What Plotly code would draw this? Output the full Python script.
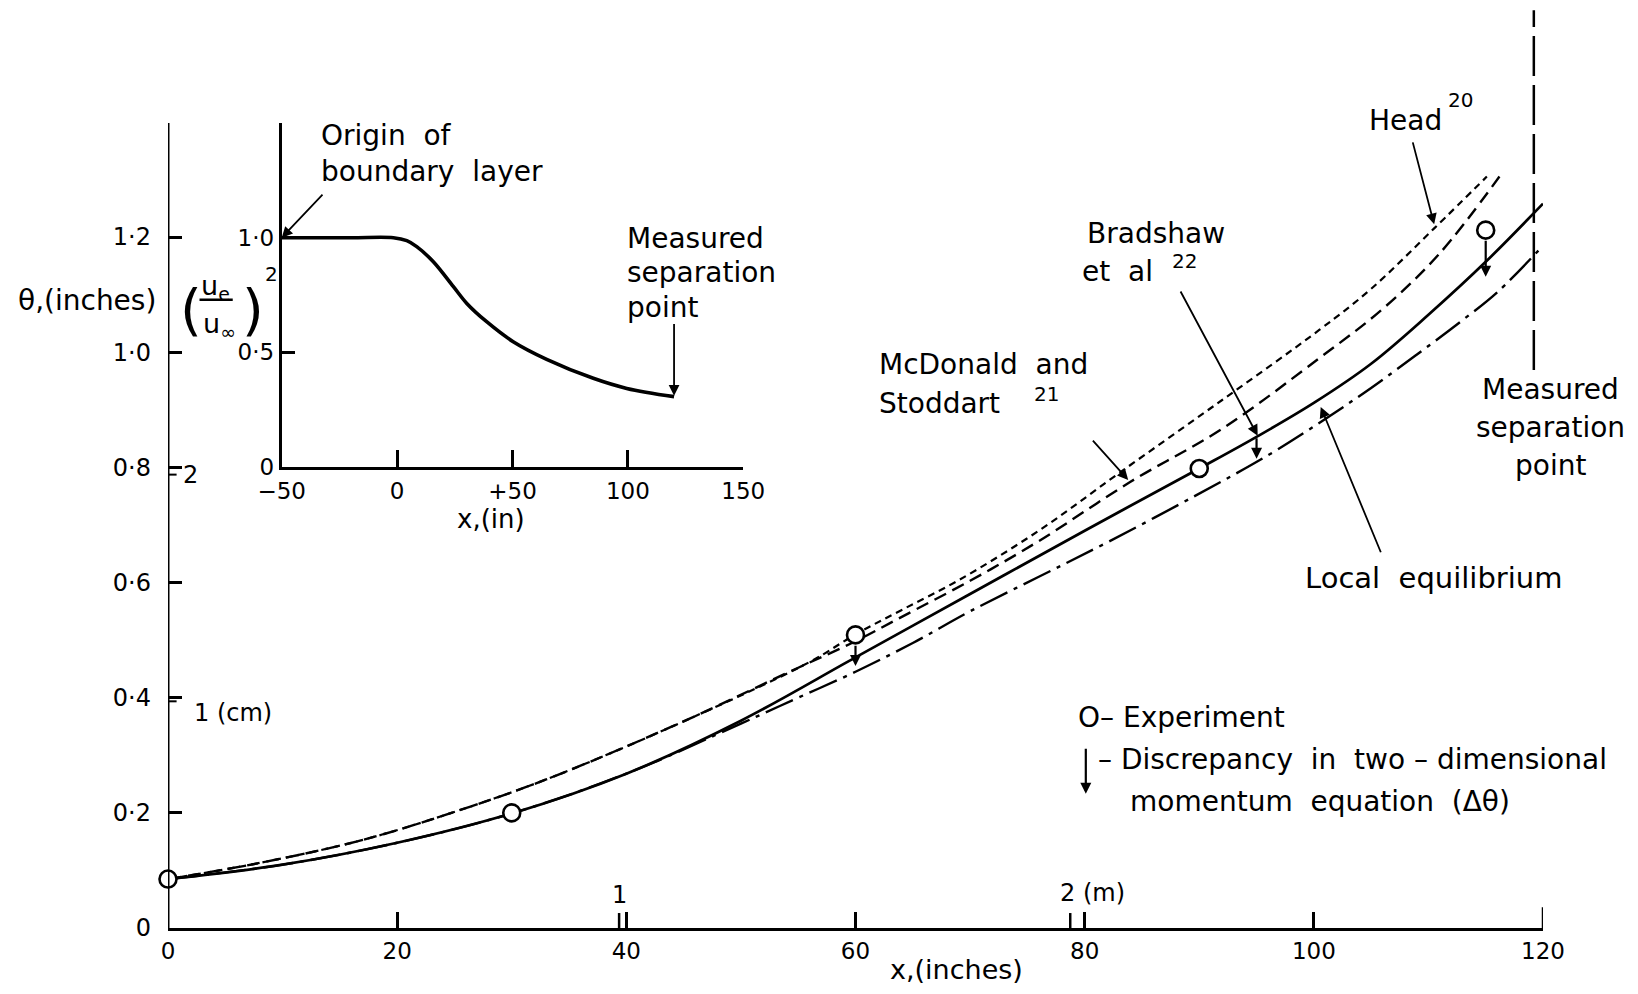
import plotly.graph_objects as go

# ---------------- data ----------------
# experiment (momentum thickness theta, inches) vs x (inches)
x_experiment = [0, 30, 60, 90, 115]
theta_experiment = [0.085, 0.2, 0.509, 0.798, 1.212]

# Bradshaw et al (solid)
x_bradshaw = [0, 10, 20, 30, 40, 50, 60, 70, 80, 90, 95, 100, 105, 110, 115, 120]
theta_bradshaw = [0.085, 0.11, 0.148, 0.199, 0.268, 0.36, 0.47, 0.58, 0.69, 0.798,
                  0.853, 0.912, 0.98, 1.065, 1.157, 1.258]

# Local equilibrium (dash-dot)
x_local = [0, 10, 20, 30, 40, 50, 55, 60, 65, 70, 76, 82, 89.5, 96, 101, 105, 109, 113, 116, 120]
theta_local = [0.085, 0.11, 0.148, 0.199, 0.268, 0.355, 0.40, 0.445, 0.495, 0.55, 0.61,
               0.67, 0.749, 0.821, 0.884, 0.938, 0.996, 1.056, 1.104, 1.185]

# Head (short dash)
x_head = [0, 8, 17, 25.5, 33, 44, 56, 60, 64, 69, 76, 83, 92, 100.5, 105, 110.5, 115.1]
theta_head = [0.085, 0.113, 0.153, 0.205, 0.258, 0.35, 0.462, 0.51, 0.552, 0.604, 0.69,
              0.79, 0.917, 1.039, 1.11, 1.215, 1.305]

# McDonald and Stoddart (dash)
x_mcdonald = [0, 8, 17, 25.5, 33, 44, 55, 60, 64, 70, 76, 84, 92, 100.5, 106, 111, 116.2]
theta_mcdonald = [0.085, 0.113, 0.153, 0.205, 0.258, 0.35, 0.452, 0.498, 0.54, 0.603, 0.672,
                  0.775, 0.867, 0.99, 1.075, 1.172, 1.305]

# discrepancy arrows (delta theta)
x_discrepancy = [60, 95, 115]
theta_disc_top = [0.493, 0.853, 1.196]
theta_disc_bottom = [0.455, 0.815, 1.131]

# measured separation
x_separation = 119.2
sep_line_y = [0.969, 1.594]

# inset: (ue/u_inf)^2 vs x (in)
x_inset = [-50, -20, -1.6, 4.2, 8.5, 15.7, 24.4, 30.2, 38.8, 50.3, 64.8, 85, 99.5, 120]
ue2_inset = [1.0, 1.0, 1.0, 0.987, 0.961, 0.895, 0.786, 0.713, 0.633, 0.546, 0.469, 0.386, 0.342, 0.306]

# tick labels
x_ticks = [0, 20, 40, 60, 80, 100, 120]
x_ticktext = ["0", "20", "40", "60", "80", "100", "120"]
y_ticks = [0, 0.2, 0.4, 0.6, 0.8, 1.0, 1.2]
y_ticktext = ["0", "0·2", "0·4", "0·6", "0·8", "1·0", "1·2"]
inset_x_ticks = [-50, 0, 50, 100, 150]
inset_x_ticktext = ["−50", "0", "+50", "100", "150"]
inset_y_ticks = [0, 0.5, 1.0]
inset_y_ticktext = ["0", "0·5", "1·0"]

# metric marks
metre_marks = [39.37, 78.74]
metre_labels = ["1", "2 (m)"]
cm_marks = [0.3937, 0.7874]
cm_labels = ["1 (cm)", "2"]

# ---------------- figure ----------------
FONT = "DejaVu Sans"
BLACK = "black"
W, H = 1638, 994
ML, MR, MT, MB = 168, 95, 0, 66
PLOT_W, PLOT_H = W - ML - MR, H - MT - MB
Y_TOP = PLOT_H / 575.8  # theta value at top of canvas
LS = 28  # label font size


def px_to_paper(px, py):
    return (px - ML) / PLOT_W, (H - MB - py) / PLOT_H


fig = go.Figure()

SPL = 1.0
fig.add_trace(go.Scatter(x=x_head, y=theta_head, mode="lines", line=dict(color=BLACK, width=2.2, dash="7px,5px", shape="spline", smoothing=SPL), cliponaxis=False))
fig.add_trace(go.Scatter(x=x_mcdonald, y=theta_mcdonald, mode="lines", line=dict(color=BLACK, width=2.4, dash="13px,7px", shape="spline", smoothing=SPL), cliponaxis=False))
fig.add_trace(go.Scatter(x=x_local, y=theta_local, mode="lines", line=dict(color=BLACK, width=2.4, dash="30px,7px,4px,7px", shape="spline", smoothing=SPL), cliponaxis=False))
fig.add_trace(go.Scatter(x=x_bradshaw, y=theta_bradshaw, mode="lines", line=dict(color=BLACK, width=2.7, shape="spline", smoothing=SPL), cliponaxis=False))
fig.add_trace(go.Scatter(x=[x_separation, x_separation], y=sep_line_y, mode="lines", line=dict(color=BLACK, width=2.5, dash="40px,9px"), cliponaxis=False))
fig.add_trace(go.Scatter(x=x_experiment, y=theta_experiment, mode="markers",
                         marker=dict(symbol="circle", size=17, color="white", line=dict(color=BLACK, width=2.6)),
                         cliponaxis=False))

# inset curve
fig.add_trace(go.Scatter(x=x_inset, y=ue2_inset, mode="lines", xaxis="x2", yaxis="y2",
                         line=dict(color=BLACK, width=3.6, shape="spline", smoothing=1.0), cliponaxis=False))

axis_font = dict(family=FONT, size=23, color=BLACK)

fig.update_layout(
    width=W, height=H,
    margin=dict(l=ML, r=MR, t=MT, b=MB, pad=0),
    paper_bgcolor="white", plot_bgcolor="white",
    showlegend=False,
    xaxis=dict(range=[0, 120], domain=[0, 1], showgrid=False, zeroline=False,
               showline=True, linecolor=BLACK, linewidth=3,
               ticks="inside", ticklen=16, tickwidth=2.5, tickcolor=BLACK,
               tickvals=x_ticks, ticktext=x_ticktext, tickfont=axis_font, ticklabelstandoff=0),
    yaxis=dict(range=[0, Y_TOP], domain=[0, 1], showgrid=False, zeroline=False, showline=False,
               ticks="inside", ticklen=14, tickwidth=2.5, tickcolor=BLACK,
               tickvals=y_ticks, ticktext=y_ticktext, tickfont=dict(family=FONT, size=24, color=BLACK),
               ticklabelstandoff=16),
    xaxis2=dict(range=[-50, 150], domain=[(281.7 - ML) / PLOT_W, (743.3 - ML) / PLOT_W], anchor="y2",
                showgrid=False, zeroline=False, showline=True, linecolor=BLACK, linewidth=3,
                ticks="inside", ticklen=17, tickwidth=2.5, tickcolor=BLACK,
                tickvals=inset_x_ticks, ticktext=inset_x_ticktext, tickfont=axis_font, ticklabelstandoff=2),
    yaxis2=dict(range=[0, 1.5], domain=[(928 - 466.7) / PLOT_H, (928 - 123.2) / PLOT_H], anchor="x2",
                showgrid=False, zeroline=False, showline=True, linecolor=BLACK, linewidth=3,
                ticks="inside", ticklen=13, tickwidth=2.5, tickcolor=BLACK,
                tickvals=inset_y_ticks, ticktext=inset_y_ticktext, tickfont=axis_font, ticklabelstandoff=0),
)

shapes = []
# main y axis line (ends at 1.4)
shapes.append(dict(type="line", xref="x", yref="y", x0=0, x1=0, y0=0, y1=1.398, line=dict(color=BLACK, width=3)))
# taller tick at 120
shapes.append(dict(type="line", xref="x", yref="y", x0=120, x1=120, y0=0, y1=0.036, line=dict(color=BLACK, width=2.5)))
# metre marks on x axis
for xm in metre_marks:
    shapes.append(dict(type="line", xref="x", yref="y", x0=xm, x1=xm, y0=0, y1=0.026, line=dict(color=BLACK, width=2.5)))
# cm marks on y axis
for ym in cm_marks:
    shapes.append(dict(type="line", xref="x", yref="y", x0=0, x1=0.75, y0=ym, y1=ym, line=dict(color=BLACK, width=2)))
# fraction bar of inset y label
shapes.append(dict(type="line", xref="x", yref="y", x0=2.75, x1=5.65, y0=1.091, y1=1.091, line=dict(color=BLACK, width=2.4)))
fig.update_layout(shapes=shapes)

ann = []


def text(x, y, s, size=LS, xanchor="center", xref="x", yref="y"):
    ann.append(dict(x=x, y=y, xref=xref, yref=yref, text=s, showarrow=False,
                    xanchor=xanchor, yanchor="middle", font=dict(family=FONT, size=size, color=BLACK)))


def ptext(px, py, s, size=LS, xanchor="center"):
    x, y = px_to_paper(px, py)
    text(x, y, s, size=size, xanchor=xanchor, xref="paper", yref="paper")


def arrow(x, y, ax, ay, xref="x", yref="y", head=2, width=1.8, size=1.2):
    ann.append(dict(x=x, y=y, ax=ax, ay=ay, xref=xref, yref=yref, axref=xref, ayref=yref,
                    text="", showarrow=True, arrowhead=head, arrowsize=size, arrowwidth=width,
                    arrowcolor=BLACK))


# axis titles (outside the data range -> paper coordinates)
ptext(87, 300, "θ,(inches)", size=28)
ptext(956, 969, "x,(inches)", size=27)

# metric labels
text(metre_marks[0], 0.058, metre_labels[0], size=24)
text(77.7, 0.061, metre_labels[1], size=24, xanchor="left")
text(2.1, 0.373, cm_labels[0], size=24, xanchor="left")
text(1.1, 0.787, cm_labels[1], size=24, xanchor="left")

# inset y label (ue/u_inf)^2
text(2.0, 1.075, "(", size=56)
text(4.15, 1.112, "u<sub>e</sub>", size=27)
text(4.5, 1.046, "u<sub>∞</sub>", size=27)
text(7.4, 1.075, ")", size=56)
text(9.0, 1.135, "2", size=20)
# inset x label
text(28.2, 0.71, "x,(in)", size=26)

# inset annotations
text(13.2, 1.376, "Origin  of", xanchor="left")
text(13.2, 1.313, "boundary  layer", xanchor="left")
arrow(-50, 1.0, -31.7, 1.195, xref="x2", yref="y2")
text(39.9, 1.198, "Measured", xanchor="left")
text(39.9, 1.139, "separation", xanchor="left")
text(39.9, 1.077, "point", xanchor="left")
arrow(120, 0.31, 120, 0.63, xref="x2", yref="y2")

# curve labels
text(108.0, 1.403, "Head")
text(112.8, 1.438, "20", size=20)
arrow(110.5, 1.222, 108.6, 1.367)

text(86.2, 1.206, "Bradshaw")
text(79.6, 1.141, "et  al", xanchor="left")
text(88.7, 1.158, "22", size=20)
arrow(95.1, 0.855, 88.3, 1.108)

text(61.9, 0.979, "McDonald  and", xanchor="left")
text(61.9, 0.911, "Stoddart", xanchor="left")
text(76.7, 0.928, "21", size=20)
arrow(83.8, 0.778, 80.6, 0.849)

text(110.4, 0.608, "Local  equilibrium", size=29)
arrow(100.6, 0.905, 105.9, 0.65)

ptext(1551, 389, "Measured")
ptext(1551, 428, "separation")
ptext(1551, 465, "point")

# discrepancy arrows
for xd, yt, yb in zip(x_discrepancy, theta_disc_top, theta_disc_bottom):
    arrow(xd, yb, xd, yt, head=2, width=2.2, size=1.0)

# key
text(79.2, 0.366, "O– Experiment", xanchor="left")
arrow(80.1, 0.233, 80.1, 0.314, head=2, width=2.2, size=1.0)
text(81.0, 0.292, "– Discrepancy  in  two – dimensional", xanchor="left")
text(83.8, 0.219, "momentum  equation  (Δθ)", xanchor="left")

fig.update_layout(annotations=ann)

fig.write_html("out.html", config={"displayModeBar": False},
               post_script="document.body.style.margin='0';document.body.style.overflow='hidden';")
